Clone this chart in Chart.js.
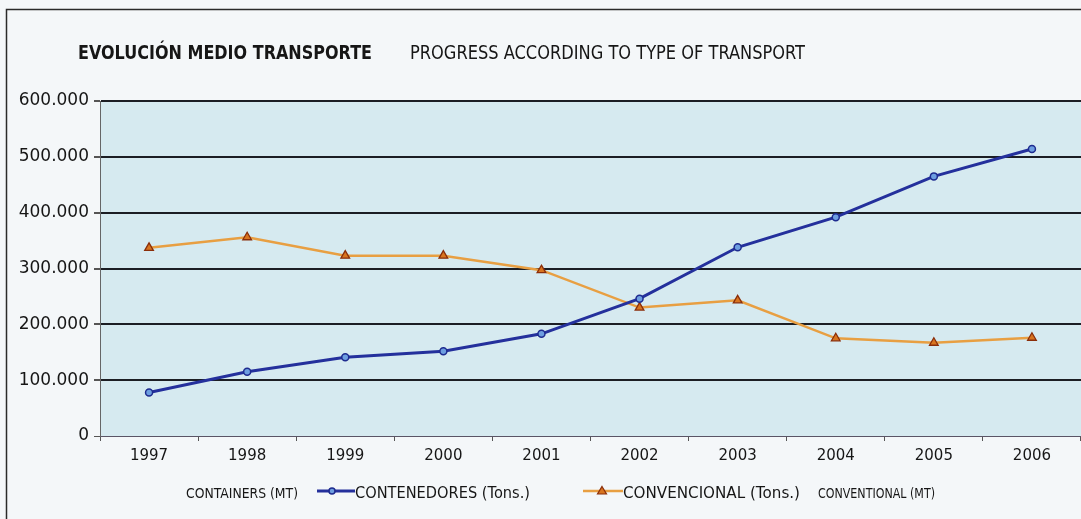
<!DOCTYPE html>
<html>
<head>
<meta charset="utf-8">
<script src="https://cdn.jsdelivr.net/npm/chart.js@4"></script>
<style>
  html, body { margin: 0; padding: 0; background: #f4f7f9; }
  #wrap { width: 1081px; height: 519px; position: relative; }
</style>
</head>
<body>
<div id="wrap"><canvas id="c" width="1081" height="519"></canvas></div>
<script>
const years = ['1997','1998','1999','2000','2001','2002','2003','2004','2005','2006'];
const contenedores = [78000, 115000, 141000, 152000, 183000, 246000, 338000, 392000, 465000, 514000];
const convencional = [337000, 356000, 323000, 323000, 297000, 230000, 243000, 175000, 167000, 176000];
const yTicks = [0, 100000, 200000, 300000, 400000, 500000, 600000];

const titleES = 'EVOLUCIÓN MEDIO TRANSPORTE';
const titleEN = 'PROGRESS ACCORDING TO TYPE OF TRANSPORT';
const legendContainersEN = 'CONTAINERS (MT)';
const legendContenedores = 'CONTENEDORES (Tons.)';
const legendConvencional = 'CONVENCIONAL (Tons.)';
const legendConventionalEN = 'CONVENTIONAL (MT)';

const BLUE = '#24309c', BLUE_PT = '#6d9ee0', BLUE_PT_BORDER = '#1e2b8f';
const ORANGE = '#e89f42', ORANGE_PT = '#d8741f', ORANGE_PT_BORDER = '#8a2e0a';

function fmt(v) {
  return String(v).replace(/\B(?=(\d{3})+(?!\d))/g, '.');
}

function fitText(ctx, text, x, baseline, width, font, color) {
  ctx.save();
  ctx.font = font;
  ctx.fillStyle = color;
  ctx.textBaseline = 'alphabetic';
  ctx.textAlign = 'left';
  const w = ctx.measureText(text).width;
  ctx.translate(x, baseline);
  ctx.scale(width / w, 1);
  ctx.fillText(text, 0, 0);
  ctx.restore();
}

const decor = {
  id: 'decor',
  beforeDraw(chart) {
    const ctx = chart.ctx;
    const a = chart.chartArea;
    ctx.save();
    ctx.fillStyle = '#f4f7f9';
    ctx.fillRect(0, 0, chart.width, chart.height);
    ctx.strokeStyle = '#2a2a2a';
    ctx.lineWidth = 1.5;
    ctx.beginPath();
    ctx.moveTo(6.5, chart.height);
    ctx.lineTo(6.5, 9.5);
    ctx.lineTo(chart.width, 9.5);
    ctx.stroke();
    ctx.fillStyle = '#d6eaf0';
    ctx.fillRect(a.left, a.top, a.right - a.left, a.bottom - a.top);
    ctx.restore();
  },
  afterDraw(chart) {
    const ctx = chart.ctx;
    fitText(ctx, titleES, 78, 59, 294, 'bold 19px "DejaVu Sans"', '#161616');
    fitText(ctx, titleEN, 410, 59, 395, '19px "DejaVu Sans Condensed", "DejaVu Sans"', '#161616');
    const ly = 498, my = 491;
    fitText(ctx, legendContainersEN, 186, ly, 112, '14px "DejaVu Sans Condensed", "DejaVu Sans"', '#161616');
    fitText(ctx, legendContenedores, 355, ly, 175, '16px "DejaVu Sans"', '#161616');
    fitText(ctx, legendConvencional, 623, ly, 177, '16px "DejaVu Sans"', '#161616');
    fitText(ctx, legendConventionalEN, 818, ly, 117, '14px "DejaVu Sans Condensed", "DejaVu Sans"', '#161616');
    ctx.save();
    ctx.strokeStyle = BLUE; ctx.lineWidth = 3;
    ctx.beginPath(); ctx.moveTo(317, my); ctx.lineTo(355, my); ctx.stroke();
    ctx.fillStyle = BLUE_PT; ctx.strokeStyle = BLUE_PT_BORDER; ctx.lineWidth = 1.5;
    ctx.beginPath(); ctx.arc(332, my, 3, 0, Math.PI * 2); ctx.fill(); ctx.stroke();
    ctx.strokeStyle = ORANGE; ctx.lineWidth = 2.5;
    ctx.beginPath(); ctx.moveTo(583, my); ctx.lineTo(623, my); ctx.stroke();
    ctx.fillStyle = ORANGE_PT; ctx.strokeStyle = ORANGE_PT_BORDER; ctx.lineWidth = 1.2;
    ctx.beginPath(); ctx.moveTo(602, my - 4.5); ctx.lineTo(606.5, my + 3); ctx.lineTo(597.5, my + 3); ctx.closePath(); ctx.fill(); ctx.stroke();
    ctx.restore();
  }
};

new Chart(document.getElementById('c'), {
  type: 'line',
  data: {
    labels: years,
    datasets: [
      {
        label: legendContenedores,
        data: contenedores,
        borderColor: BLUE,
        borderWidth: 3,
        pointStyle: 'circle',
        pointRadius: 3.5,
        pointBackgroundColor: BLUE_PT,
        pointBorderColor: BLUE_PT_BORDER,
        pointBorderWidth: 1.5,
        tension: 0,
        fill: false
      },
      {
        label: legendConvencional,
        data: convencional,
        borderColor: ORANGE,
        borderWidth: 2.5,
        pointStyle: 'triangle',
        pointRadius: 5,
        pointBackgroundColor: ORANGE_PT,
        pointBorderColor: ORANGE_PT_BORDER,
        pointBorderWidth: 1.3,
        tension: 0,
        fill: false
      }
    ]
  },
  options: {
    responsive: false,
    devicePixelRatio: 1,
    animation: false,
    layout: { autoPadding: false, padding: { top: 101, left: 0, right: 0, bottom: 0 } },
    plugins: { legend: { display: false }, tooltip: { enabled: false }, title: { display: false } },
    scales: {
      x: {
        offset: true,
        afterFit(scale) { scale.height = 83; },
        grid: { drawOnChartArea: false, drawTicks: true, tickLength: 5, color: '#555', offset: true },
        border: { display: true, color: '#5a5566', width: 1 },
        ticks: { color: '#161616', font: { family: 'DejaVu Sans', size: 15 }, padding: 6 }
      },
      y: {
        min: 0,
        max: 600000,
        afterFit(scale) { scale.width = 100; },
        afterBuildTicks(scale) { scale.ticks = yTicks.map(v => ({ value: v })); },
        grid: {
          color: (c) => c.tick && c.tick.value === 0 ? '#5a5566' : '#1c1e24',
          lineWidth: (c) => c.tick && c.tick.value === 0 ? 1 : 2,
          tickColor: '#555',
          tickLength: 6
        },
        border: { display: true, color: '#666', width: 1 },
        ticks: {
          color: '#161616',
          font: { family: 'DejaVu Sans', size: 17 },
          padding: 5,
          callback: (v) => fmt(v)
        }
      }
    }
  },
  plugins: [decor]
});
</script>
</body>
</html>
